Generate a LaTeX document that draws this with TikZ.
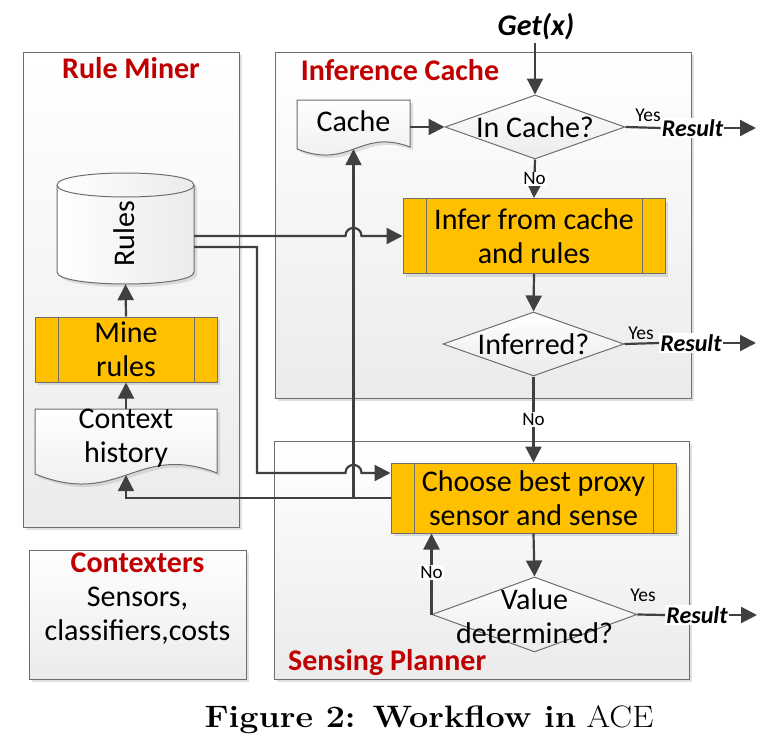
\documentclass[tikz,border=0pt]{standalone}
\usepackage{fontspec}
\newfontfamily\cfont{Carlito}
\usetikzlibrary{shapes.geometric,arrows.meta,shadows}
\definecolor{cLn}{HTML}{404040}
\definecolor{cBd}{HTML}{6E6E6E}
\definecolor{cYel}{HTML}{FFC000}
\definecolor{cRed}{HTML}{C00000}
\definecolor{cGrd}{HTML}{EBEBEB}
\begin{document}
\begin{tikzpicture}[x=1pt,y=-1pt,
  shd/.style={drop shadow={shadow xshift=3pt,shadow yshift=-3pt,fill=black!30,opacity=.4}},
  cbox/.style={draw=cBd,line width=1pt,top color=white,bottom color=cGrd,shd,inner sep=0pt},
  txt/.style={font=\cfont\fontsize{30}{34}\selectfont,align=center,inner sep=0pt},
  ttlst/.style={font=\cfont\bfseries\fontsize{30}{36}\selectfont,text=cRed,inner sep=0pt},
  proc/.style={draw=cBd,line width=1pt,fill=cYel,shd,txt,
    path picture={\draw[cBd,line width=1pt]
      ([xshift=23pt]path picture bounding box.north west) -- ([xshift=23pt]path picture bounding box.south west)
      ([xshift=-23pt]path picture bounding box.north east) -- ([xshift=-23pt]path picture bounding box.south east);}},
  dec/.style={diamond,draw=cBd,line width=1pt,top color=white,bottom color=cGrd,inner sep=0pt},
  lnk/.style={draw=cLn,line width=2.2pt},
  arr/.style={lnk,-{Triangle[length=16pt,width=16pt]}},
  lab/.style={font=\cfont\fontsize{19}{22}\selectfont,fill=white,inner sep=1pt,text=black},
  yes/.style={font=\cfont\fontsize{19.5}{22}\selectfont,inner sep=0pt,text=black},
  res/.style={font=\cfont\bfseries\itshape\fontsize{24}{28}\selectfont,fill=white,inner sep=1pt}]
\useasboundingbox (0,0) rectangle (772,739);

% containers
\node[cbox,minimum width=216pt,minimum height=475pt] (rm) at (131,289.5) {};
\node[cbox,minimum width=416pt,minimum height=346pt] (ic) at (483,225) {};
\node[cbox,minimum width=415pt,minimum height=238pt] (sp) at (481.5,560) {};
\node[cbox,minimum width=217pt,minimum height=129pt] (ctx) at (137.5,614.5) {};

\node[ttlst,anchor=base] (rmt) at (131,78) {Rule Miner};
\node[ttlst,anchor=base] (ict) at (400,80) {Inference Cache};
\node[ttlst,anchor=base west] (spt) at (288,670) {Sensing Planner};
\node[txt] (ctxt) at (137.5,599) {{\color{cRed}\bfseries Contexters}\\Sensors,\\classifiers,costs};

% Rules cylinder
\path[draw=cBd,line width=1pt,left color=white,right color=cGrd,shd]
  (57,185) -- (57,272) .. controls (57,288) and (194,288) .. (194,272)
  -- (194,185) .. controls (194,169) and (57,169) .. (57,185) -- cycle;
\draw[cBd,line width=1pt] (57,185) .. controls (57,201) and (194,201) .. (194,185);
\node[minimum width=137pt,minimum height=111pt,inner sep=0pt] (rules) at (125.5,228.5) {};
\node[txt,rotate=90] (rulest) at (124,234) {Rules};

% Mine rules
\node[proc,minimum width=182pt,minimum height=65pt] (mine) at (126,349.5) {Mine\\rules};

% Context history document
\path[draw=cBd,line width=1pt,top color=white,bottom color=cGrd,shd]
  (35,409) -- (217,409) -- (217,473) .. controls (136,442) and (120,508) .. (35,474) -- cycle;
\node[minimum width=182pt,minimum height=66pt,inner sep=0pt] (ctxh) at (126,442) {};
\node[txt] (ctxht) at (126,438) {Context\\history};

% Cache document
\path[draw=cBd,line width=1pt,top color=white,bottom color=cGrd,shd]
  (297,100) -- (410,100) -- (410,147) .. controls (360,128) and (350,170) .. (297,149) -- cycle;
\node[minimum width=113pt,minimum height=49pt,inner sep=0pt] (cache) at (353.5,124.5) {};
\node[txt] (cachet) at (353.5,121) {Cache};

% decisions
\node[dec,minimum width=180pt,minimum height=64pt] (incache) at (535,127) {};
\node[txt] at (incache) {In Cache?};
\node[dec,minimum width=181pt,minimum height=64pt] (inferred) at (533.5,344) {};
\node[txt] at (inferred) {Inferred?};
\node[dec,minimum width=205pt,minimum height=75pt] (value) at (534.5,614.5) {};
\node[txt] at (534.5,616) {Value\\determined?};

% processes
\node[proc,minimum width=262pt,minimum height=75pt] (infer) at (534,236) {Infer from cache\\and rules};
\node[proc,minimum width=285pt,minimum height=70pt] (choose) at (533.5,498) {Choose best proxy\\sensor and sense};

% input / outputs
\node[font=\cfont\bfseries\itshape\fontsize{30}{36}\selectfont,inner sep=2pt] (get) at (536,27) {Get(x)};
\node[res] (res1) at (692.5,128) {Result};
\node[res] (res2) at (691,343) {Result};
\node[res] (res3) at (697,615) {Result};
\coordinate (end1) at (756,128);
\coordinate (end2) at (756,343);
\coordinate (end3) at (757,615);

% connectors
\draw[arr] (get.south -| incache.north) -- (incache.north);
\draw[arr] (cache.east |- incache.west) -- (incache.west);
\draw[lnk] (incache.east) -- (res1.west);
\node[yes] at (648,115) {Yes};
\draw[arr] (res1.east) -- (end1);
\draw[arr] (incache.south) -- node[lab] {No} (infer.north);
\draw[arr] (infer.south) -- (inferred.north);
\draw[lnk] (inferred.east) -- (res2.west);
\node[yes] at (641,333) {Yes};
\draw[arr] (res2.east) -- (end2);
\draw[arr] (inferred.south) -- node[lab] {No} (choose.north);
\draw[arr] (choose.south) -- (value.north);
\draw[lnk] (value.east) -- (res3.west);
\node[yes] at (643,595) {Yes};
\draw[arr] (res3.east) -- (end3);
\draw[arr] (value.west) -- node[lab,pos=0.52] {No} (value.west |- choose.south);

\draw[arr] (mine.north) -- (rules.south);
\draw[arr] (ctxh.north) -- (mine.south);
\draw[arr] (choose.west) -- (choose.west -| ctxh.south) -- (ctxh.south);
\draw[arr] (choose.west -| cache.south) -- (cache.south);
\draw[arr] ([yshift=-7.5pt]rules.east) -- (345.5,236)
  .. controls (345.5,225.3) and (361.5,225.3) .. (361.5,236) -- (infer.west);
\draw[arr] ([yshift=-18.5pt]rules.east) -- (257,247) -- (257,473) -- (345.5,473)
  .. controls (345.5,462.3) and (361.5,462.3) .. (361.5,473) -- ([yshift=25pt]choose.west);

% caption
\node[inner sep=0pt] (cap) at (429,720) {\scalebox{1.1}[1]{\fontsize{31}{36}\selectfont\textbf{Figure 2: Workflow in} ACE}};
\end{tikzpicture}
\end{document}
